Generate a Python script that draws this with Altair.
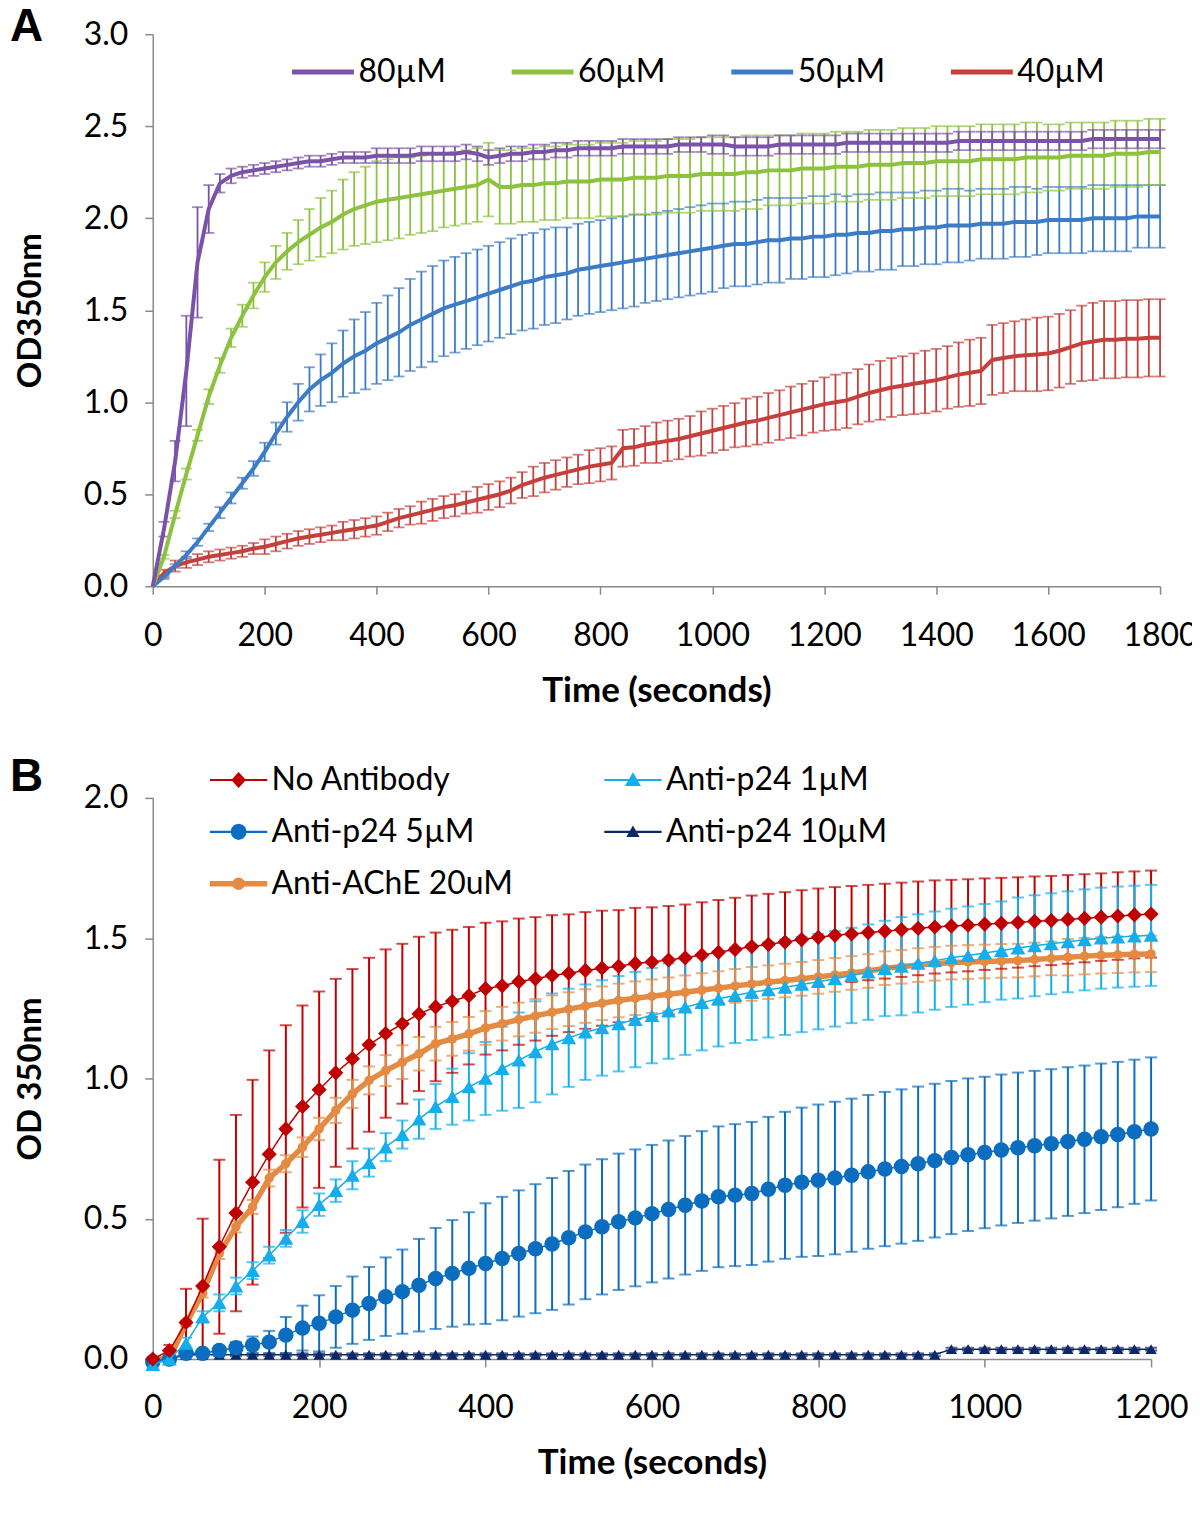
import altair as alt
import pandas as pd

# ---------------- Panel A data (sampled every 20 s) ----------------
TIMES_A = list(range(0, 1801, 20))
A_SERIES = ["80µM", "60µM", "50µM", "40µM"]
A_COLORS = ["#7A53A8", "#8CC23F", "#3C7BC6", "#C5403C"]

od_80 = [0.00, 0.31, 0.68, 1.17, 1.76, 2.05, 2.19, 2.23, 2.25, 2.26,
         2.27, 2.28, 2.29, 2.30, 2.31, 2.31, 2.32, 2.33, 2.33, 2.33,
         2.34, 2.34, 2.34, 2.34, 2.35, 2.35, 2.35, 2.35, 2.36, 2.35,
         2.33, 2.34, 2.35, 2.35, 2.36, 2.36, 2.37, 2.37, 2.38, 2.38,
         2.38, 2.38, 2.39, 2.39, 2.39, 2.39, 2.39, 2.40, 2.40, 2.40,
         2.40, 2.40, 2.39, 2.39, 2.39, 2.39, 2.40, 2.40, 2.40, 2.40,
         2.40, 2.40, 2.41, 2.41, 2.41, 2.41, 2.41, 2.41, 2.41, 2.41,
         2.41, 2.41, 2.42, 2.42, 2.42, 2.42, 2.42, 2.42, 2.42, 2.42,
         2.42, 2.42, 2.42, 2.42, 2.43, 2.43, 2.43, 2.43, 2.43, 2.43,
         2.43]
err_80 = [0.00, 0.04, 0.11, 0.30, 0.30, 0.13, 0.05, 0.04, 0.03, 0.03,
          0.03, 0.03, 0.03, 0.03, 0.03, 0.03, 0.03, 0.03, 0.03, 0.03,
          0.04, 0.04, 0.04, 0.04, 0.04, 0.04, 0.04, 0.04, 0.04, 0.04,
          0.04, 0.04, 0.04, 0.04, 0.04, 0.04, 0.04, 0.04, 0.04, 0.04,
          0.04, 0.04, 0.04, 0.04, 0.04, 0.04, 0.04, 0.04, 0.04, 0.04,
          0.05, 0.05, 0.05, 0.05, 0.05, 0.05, 0.05, 0.05, 0.05, 0.05,
          0.05, 0.05, 0.05, 0.05, 0.05, 0.05, 0.05, 0.05, 0.05, 0.05,
          0.05, 0.05, 0.05, 0.05, 0.05, 0.05, 0.05, 0.05, 0.05, 0.05,
          0.05, 0.05, 0.05, 0.05, 0.05, 0.05, 0.05, 0.05, 0.05, 0.05,
          0.05]

od_60 = [0.00, 0.16, 0.39, 0.61, 0.82, 1.03, 1.20, 1.35, 1.47, 1.58,
         1.68, 1.76, 1.82, 1.87, 1.91, 1.95, 1.98, 2.02, 2.05, 2.07,
         2.09, 2.10, 2.11, 2.12, 2.13, 2.14, 2.15, 2.16, 2.17, 2.18,
         2.21, 2.17, 2.17, 2.18, 2.18, 2.19, 2.19, 2.20, 2.20, 2.20,
         2.21, 2.21, 2.21, 2.22, 2.22, 2.22, 2.23, 2.23, 2.23, 2.24,
         2.24, 2.24, 2.24, 2.25, 2.25, 2.26, 2.26, 2.26, 2.27, 2.27,
         2.27, 2.28, 2.28, 2.28, 2.29, 2.29, 2.29, 2.30, 2.30, 2.30,
         2.31, 2.31, 2.31, 2.31, 2.32, 2.32, 2.32, 2.32, 2.33, 2.33,
         2.33, 2.33, 2.34, 2.34, 2.34, 2.34, 2.35, 2.35, 2.35, 2.36,
         2.36]
err_60 = [0.00, 0.01, 0.02, 0.03, 0.03, 0.04, 0.04, 0.05, 0.06, 0.07,
          0.08, 0.09, 0.10, 0.12, 0.14, 0.16, 0.17, 0.19, 0.20, 0.21,
          0.22, 0.22, 0.22, 0.21, 0.21, 0.21, 0.20, 0.20, 0.20, 0.20,
          0.20, 0.20, 0.20, 0.20, 0.20, 0.20, 0.20, 0.20, 0.20, 0.20,
          0.20, 0.20, 0.20, 0.20, 0.20, 0.20, 0.20, 0.20, 0.20, 0.20,
          0.20, 0.20, 0.20, 0.20, 0.20, 0.19, 0.19, 0.19, 0.19, 0.19,
          0.19, 0.19, 0.19, 0.19, 0.19, 0.19, 0.19, 0.19, 0.19, 0.19,
          0.19, 0.19, 0.19, 0.19, 0.19, 0.19, 0.19, 0.19, 0.19, 0.19,
          0.18, 0.18, 0.18, 0.18, 0.18, 0.18, 0.18, 0.18, 0.18, 0.18,
          0.18]

od_50 = [0.00, 0.05, 0.11, 0.17, 0.24, 0.32, 0.40, 0.48, 0.56, 0.64,
         0.73, 0.83, 0.92, 1.00, 1.07, 1.12, 1.16, 1.21, 1.25, 1.28,
         1.32, 1.35, 1.38, 1.42, 1.45, 1.48, 1.51, 1.53, 1.55, 1.57,
         1.59, 1.61, 1.63, 1.65, 1.66, 1.68, 1.69, 1.70, 1.72, 1.73,
         1.74, 1.75, 1.76, 1.77, 1.78, 1.79, 1.80, 1.81, 1.82, 1.83,
         1.84, 1.85, 1.86, 1.86, 1.87, 1.88, 1.88, 1.89, 1.89, 1.90,
         1.90, 1.91, 1.91, 1.92, 1.92, 1.93, 1.93, 1.94, 1.94, 1.95,
         1.95, 1.96, 1.96, 1.96, 1.97, 1.97, 1.97, 1.98, 1.98, 1.98,
         1.99, 1.99, 1.99, 1.99, 2.00, 2.00, 2.00, 2.00, 2.01, 2.01,
         2.01]
err_50 = [0.00, 0.01, 0.01, 0.02, 0.02, 0.02, 0.03, 0.03, 0.03, 0.04,
          0.05, 0.06, 0.08, 0.10, 0.12, 0.14, 0.16, 0.18, 0.20, 0.21,
          0.22, 0.23, 0.24, 0.25, 0.26, 0.26, 0.26, 0.26, 0.26, 0.26,
          0.26, 0.26, 0.26, 0.26, 0.26, 0.26, 0.26, 0.25, 0.25, 0.25,
          0.25, 0.25, 0.25, 0.25, 0.24, 0.24, 0.24, 0.24, 0.24, 0.24,
          0.24, 0.23, 0.23, 0.23, 0.23, 0.23, 0.23, 0.22, 0.22, 0.22,
          0.22, 0.22, 0.21, 0.21, 0.21, 0.21, 0.21, 0.20, 0.20, 0.20,
          0.20, 0.20, 0.20, 0.19, 0.19, 0.19, 0.19, 0.19, 0.19, 0.18,
          0.18, 0.18, 0.18, 0.18, 0.18, 0.18, 0.18, 0.18, 0.17, 0.17,
          0.17]

od_40 = [0.00, 0.07, 0.11, 0.13, 0.145, 0.16, 0.17, 0.18, 0.19, 0.205,
         0.215, 0.23, 0.245, 0.26, 0.27, 0.28, 0.29, 0.30, 0.31, 0.32,
         0.33, 0.35, 0.37, 0.385, 0.40, 0.415, 0.43, 0.44, 0.455, 0.47,
         0.485, 0.50, 0.52, 0.55, 0.57, 0.59, 0.605, 0.62, 0.635, 0.65,
         0.66, 0.67, 0.75, 0.755, 0.77, 0.78, 0.79, 0.80, 0.815, 0.83,
         0.845, 0.86, 0.875, 0.89, 0.90, 0.915, 0.93, 0.945, 0.96, 0.975,
         0.99, 1.00, 1.01, 1.03, 1.05, 1.065, 1.08, 1.09, 1.10, 1.11,
         1.12, 1.135, 1.15, 1.16, 1.17, 1.23, 1.24, 1.25, 1.255, 1.26,
         1.265, 1.28, 1.30, 1.32, 1.33, 1.34, 1.34, 1.345, 1.345, 1.35,
         1.35]
err_40 = [0.00, 0.02, 0.03, 0.03, 0.03, 0.03, 0.03, 0.03, 0.03, 0.03,
          0.04, 0.04, 0.04, 0.04, 0.04, 0.04, 0.04, 0.05, 0.05, 0.05,
          0.05, 0.05, 0.05, 0.05, 0.06, 0.06, 0.06, 0.06, 0.06, 0.07,
          0.07, 0.07, 0.07, 0.07, 0.08, 0.08, 0.08, 0.08, 0.08, 0.09,
          0.09, 0.09, 0.10, 0.10, 0.10, 0.11, 0.11, 0.11, 0.11, 0.12,
          0.12, 0.12, 0.12, 0.13, 0.13, 0.135, 0.135, 0.14, 0.14, 0.14,
          0.145, 0.15, 0.15, 0.15, 0.155, 0.16, 0.16, 0.16, 0.165, 0.17,
          0.17, 0.17, 0.175, 0.18, 0.18, 0.19, 0.19, 0.19, 0.195, 0.20,
          0.20, 0.20, 0.20, 0.205, 0.21, 0.21, 0.21, 0.21, 0.21, 0.21,
          0.21]

# ---------------- Panel B data (sampled every 20 s) ----------------
TIMES_B = list(range(0, 1201, 20))
B_SERIES = ["No Antibody", "Anti-p24 1µM", "Anti-p24 5µM", "Anti-p24 10µM", "Anti-AChE 20uM"]
B_COLORS = ["#C00000", "#14AEEC", "#0A6DC0", "#0D2866", "#E58A42"]
B_SHAPES = ["diamond", "triangle-up", "circle", "triangle-up", "circle"]
B_SIZES = [230, 220, 240, 130, 90]
B_LINEW = [1.5, 1.5, 1.5, 1.5, 5.5]

no_ab = [0.00, 0.03, 0.13, 0.26, 0.40, 0.52, 0.63, 0.73, 0.82, 0.90,
         0.96, 1.02, 1.07, 1.12, 1.16, 1.195, 1.23, 1.255, 1.275, 1.295,
         1.32, 1.33, 1.345, 1.355, 1.367, 1.375, 1.385, 1.393, 1.40, 1.41,
         1.415, 1.422, 1.43, 1.44, 1.45, 1.46, 1.47, 1.478, 1.486, 1.495,
         1.503, 1.51, 1.515, 1.52, 1.525, 1.53, 1.535, 1.54, 1.543, 1.546,
         1.55, 1.553, 1.556, 1.56, 1.563, 1.567, 1.571, 1.575, 1.579, 1.583,
         1.586]
no_ab_err = [0.00, 0.02, 0.12, 0.24, 0.31, 0.35, 0.365, 0.37, 0.37, 0.36,
             0.35, 0.335, 0.32, 0.31, 0.30, 0.285, 0.275, 0.265, 0.255, 0.245,
             0.235, 0.23, 0.225, 0.22, 0.215, 0.21, 0.208, 0.205, 0.20, 0.198,
             0.195, 0.193, 0.19, 0.188, 0.186, 0.184, 0.182, 0.18, 0.178, 0.176,
             0.174, 0.172, 0.171, 0.17, 0.169, 0.168, 0.167, 0.166, 0.165, 0.164,
             0.163, 0.162, 0.161, 0.16, 0.159, 0.158, 0.157, 0.156, 0.156, 0.155,
             0.155]

p24_1 = [-0.02, 0.00, 0.056, 0.15, 0.20, 0.26, 0.315, 0.37, 0.43, 0.49,
         0.55, 0.60, 0.655, 0.70, 0.755, 0.80, 0.855, 0.90, 0.935, 0.97,
         1.00, 1.035, 1.065, 1.095, 1.123, 1.145, 1.165, 1.18, 1.195, 1.21,
         1.224, 1.24, 1.254, 1.27, 1.284, 1.296, 1.307, 1.316, 1.325, 1.335,
         1.345, 1.355, 1.367, 1.379, 1.392, 1.40, 1.41, 1.42, 1.43, 1.438,
         1.447, 1.456, 1.465, 1.473, 1.48, 1.487, 1.494, 1.50, 1.504, 1.507,
         1.51]
p24_1_err = [0.01, 0.01, 0.02, 0.02, 0.03, 0.03, 0.03, 0.03, 0.03, 0.04,
             0.04, 0.04, 0.05, 0.05, 0.05, 0.05, 0.07, 0.08, 0.10, 0.12,
             0.13, 0.15, 0.17, 0.18, 0.18, 0.175, 0.17, 0.17, 0.17, 0.17,
             0.17, 0.17, 0.17, 0.17, 0.17, 0.17, 0.17, 0.17, 0.17, 0.17,
             0.17, 0.17, 0.17, 0.17, 0.17, 0.175, 0.175, 0.175, 0.175, 0.175,
             0.175, 0.175, 0.18, 0.18, 0.18, 0.18, 0.18, 0.18, 0.18, 0.18,
             0.18]

p24_5 = [-0.01, 0.00, 0.02, 0.02, 0.03, 0.04, 0.05, 0.06, 0.085, 0.11,
         0.127, 0.15, 0.174, 0.198, 0.222, 0.24, 0.263, 0.287, 0.305, 0.323,
         0.34, 0.358, 0.376, 0.393, 0.41, 0.432, 0.453, 0.471, 0.489, 0.503,
         0.518, 0.533, 0.548, 0.563, 0.578, 0.584, 0.59, 0.605, 0.619, 0.63,
         0.637, 0.645, 0.655, 0.667, 0.677, 0.686, 0.696, 0.707, 0.718, 0.728,
         0.736, 0.745, 0.753, 0.76, 0.767, 0.775, 0.783, 0.792, 0.80, 0.81,
         0.82]
p24_5_err = [0.00, 0.005, 0.01, 0.01, 0.015, 0.02, 0.03, 0.04, 0.065, 0.08,
             0.10, 0.11, 0.12, 0.13, 0.14, 0.15, 0.165, 0.18, 0.19, 0.20,
             0.215, 0.22, 0.225, 0.23, 0.235, 0.238, 0.24, 0.241, 0.243, 0.244,
             0.245, 0.246, 0.247, 0.249, 0.251, 0.253, 0.255, 0.258, 0.262, 0.266,
             0.27, 0.272, 0.273, 0.274, 0.275, 0.275, 0.275, 0.274, 0.273, 0.272,
             0.27, 0.269, 0.268, 0.267, 0.266, 0.265, 0.263, 0.261, 0.259, 0.257,
             0.255]

p24_10 = [-0.01, 0.00, 0.015, 0.015, 0.015, 0.015, 0.015, 0.015, 0.015, 0.015,
          0.015, 0.015, 0.015, 0.015, 0.015, 0.015, 0.015, 0.015, 0.015, 0.015,
          0.015, 0.015, 0.015, 0.015, 0.015, 0.015, 0.015, 0.015, 0.015, 0.015,
          0.015, 0.015, 0.015, 0.015, 0.015, 0.015, 0.015, 0.015, 0.015, 0.015,
          0.015, 0.015, 0.015, 0.015, 0.015, 0.015, 0.015, 0.015, 0.035, 0.035,
          0.035, 0.035, 0.035, 0.035, 0.035, 0.035, 0.035, 0.035, 0.035, 0.035,
          0.035]
p24_10_err = [0.005, 0.005, 0.005, 0.005, 0.005, 0.005, 0.005, 0.005, 0.005, 0.005,
              0.005, 0.005, 0.005, 0.005, 0.005, 0.005, 0.005, 0.005, 0.005, 0.005,
              0.005, 0.005, 0.005, 0.005, 0.005, 0.005, 0.005, 0.005, 0.005, 0.005,
              0.005, 0.005, 0.005, 0.005, 0.005, 0.005, 0.005, 0.005, 0.005, 0.005,
              0.005, 0.005, 0.005, 0.005, 0.005, 0.005, 0.005, 0.005, 0.005, 0.005,
              0.005, 0.005, 0.005, 0.005, 0.005, 0.005, 0.005, 0.005, 0.005, 0.005,
              0.005]

ache = [0.00, 0.00, 0.127, 0.234, 0.376, 0.471, 0.542, 0.645, 0.696, 0.755,
        0.82, 0.886, 0.945, 0.993, 1.028, 1.058, 1.088, 1.124, 1.141, 1.159,
        1.18, 1.195, 1.21, 1.223, 1.236, 1.247, 1.258, 1.268, 1.278, 1.286,
        1.293, 1.30, 1.307, 1.315, 1.322, 1.33, 1.337, 1.343, 1.349, 1.355,
        1.362, 1.369, 1.376, 1.383, 1.393, 1.398, 1.404, 1.409, 1.413, 1.415,
        1.417, 1.419, 1.42, 1.424, 1.428, 1.432, 1.436, 1.439, 1.441, 1.443,
        1.444]
ache_err = [0.00, 0.005, 0.01, 0.015, 0.02, 0.02, 0.025, 0.03, 0.03, 0.035,
            0.04, 0.045, 0.05, 0.05, 0.055, 0.06, 0.06, 0.06, 0.06, 0.06,
            0.06, 0.06, 0.06, 0.06, 0.06, 0.06, 0.06, 0.06, 0.06, 0.06,
            0.06, 0.06, 0.06, 0.06, 0.06, 0.06, 0.06, 0.06, 0.06, 0.06,
            0.06, 0.06, 0.06, 0.06, 0.06, 0.06, 0.06, 0.06, 0.06, 0.06,
            0.06, 0.06, 0.06, 0.06, 0.06, 0.065, 0.065, 0.065, 0.065, 0.065,
            0.065]

# legend symbols for panel B: a line segment plus the marker (unit coordinates)
_THIN = "M-4.1,-0.15L4.1,-0.15L4.1,0.15L-4.1,0.15Z "
_THICK = "M-4.1,-0.38L4.1,-0.38L4.1,0.38L-4.1,0.38Z "
LEG_PATHS = [
    _THIN + "M0,-1.15L1.05,0L0,1.15L-1.05,0Z",
    _THIN + "M0,-1.1L1.15,0.85L-1.15,0.85Z",
    _THIN + ("M1.15,0L1,0.575L0.575,1L0,1.15L-0.575,1L-1,0.575L-1.15,0"
             "L-1,-0.575L-0.575,-1L0,-1.15L0.575,-1L1,-0.575Z"),
    _THIN + "M0,-0.9L0.95,0.75L-0.95,0.75Z",
    _THICK + ("M0.9,0L0.78,0.45L0.45,0.78L0,0.9L-0.45,0.78L-0.78,0.45L-0.9,0"
              "L-0.78,-0.45L-0.45,-0.78L0,-0.9L0.45,-0.78L0.78,-0.45Z"),
]


def long_frame(times, names, values, errors):
    rows = []
    for name, vals, errs in zip(names, values, errors):
        assert len(vals) == len(times), (name, len(vals))
        assert len(errs) == len(times), (name, len(errs))
        for t, v, e in zip(times, vals, errs):
            rows.append({"time": t, "series": name, "od": v, "err": e,
                         "lo": v - e, "hi": v + e})
    return pd.DataFrame(rows)


# draw order: last drawn on top
df_a = long_frame(TIMES_A, A_SERIES[::-1],
                  [od_40, od_50, od_60, od_80], [err_40, err_50, err_60, err_80])
df_b = long_frame(TIMES_B, B_SERIES,
                  [no_ab, p24_1, p24_5, p24_10, ache],
                  [no_ab_err, p24_1_err, p24_5_err, p24_10_err, ache_err])

FONT = "Lato"

# ---------------- Panel A ----------------
xa_scale = alt.Scale(domain=[0, 1800], nice=False, zero=False)
ya_scale = alt.Scale(domain=[0, 3], nice=False)
xa_axis = alt.Axis(values=list(range(0, 1801, 200)), format="d", title="Time (seconds)")
ya_axis = alt.Axis(values=[0, 0.5, 1.0, 1.5, 2.0, 2.5, 3.0], format=".1f", title="OD350nm")
col_a = alt.Scale(domain=A_SERIES, range=A_COLORS)

# legend-only layer (first, so that its legend definition wins when merged)
legend_layer_a = alt.Chart(pd.DataFrame({"series": A_SERIES})).mark_point(opacity=0).encode(
    x=alt.value(500), y=alt.value(300),
    color=alt.Color("series:N", scale=col_a, legend=alt.Legend(
        title=None, orient="none", legendX=137, legendY=4, direction="horizontal",
        columns=4, symbolType="stroke", symbolSize=3844, symbolStrokeWidth=5,
        symbolOpacity=1, labelFontSize=32, labelFont=FONT, labelColor="black",
        labelOffset=2, columnPadding=55, labelLimit=400)))

base_a = alt.Chart(df_a)
xa = alt.X("time:Q", scale=xa_scale, axis=xa_axis)
err_a = base_a.transform_filter("datum.err > 0")
rules_a = err_a.mark_rule(strokeWidth=1.8).encode(
    x=xa, y=alt.Y("lo:Q", scale=ya_scale, axis=ya_axis), y2="hi:Q",
    color=alt.Color("series:N", scale=col_a, legend=None))
caps_hi_a = err_a.mark_tick(orient="horizontal", size=11, thickness=1.8).encode(
    x=xa, y=alt.Y("hi:Q", scale=ya_scale, axis=ya_axis),
    color=alt.Color("series:N", scale=col_a, legend=None))
caps_lo_a = err_a.mark_tick(orient="horizontal", size=11, thickness=1.8).encode(
    x=xa, y=alt.Y("lo:Q", scale=ya_scale, axis=ya_axis),
    color=alt.Color("series:N", scale=col_a, legend=None))
lines_a = base_a.mark_line(strokeWidth=4).encode(
    x=xa, y=alt.Y("od:Q", scale=ya_scale, axis=ya_axis),
    color=alt.Color("series:N", scale=col_a, legend=None))
letter_a = alt.Chart(pd.DataFrame({"letter": ["A"]})).mark_text(
    align="left", baseline="alphabetic", fontSize=46, fontWeight="bold",
    font="Liberation Sans", color="black").encode(
    x=alt.value(-143), y=alt.value(7), text="letter:N")

panel_a = alt.layer(legend_layer_a, rules_a, caps_hi_a, caps_lo_a, lines_a,
                    letter_a).properties(width=1009, height=553)

# ---------------- Panel B ----------------
xb_scale = alt.Scale(domain=[0, 1200], nice=False, zero=False)
yb_scale = alt.Scale(domain=[0, 2], nice=False)
xb_axis = alt.Axis(values=list(range(0, 1201, 200)), format="d", title="Time (seconds)")
yb_axis = alt.Axis(values=[0, 0.5, 1.0, 1.5, 2.0], format=".1f", title="OD 350nm")
col_b = alt.Scale(domain=B_SERIES, range=B_COLORS)

legend_b = alt.Legend(
    title=None, orient="none", legendX=70, legendY=-34, direction="horizontal",
    columns=2, symbolSize=196, symbolOpacity=1, symbolStrokeWidth=0,
    labelFontSize=32, labelFont=FONT, labelColor="black", labelOffset=17,
    rowPadding=20, columnPadding=91, labelLimit=400)
legend_layer_b = alt.Chart(pd.DataFrame({"series": B_SERIES})).mark_point(
    filled=True, opacity=0, size=196).encode(
    x=alt.value(500), y=alt.value(300),
    color=alt.Color("series:N", scale=col_b, legend=legend_b),
    shape=alt.Shape("series:N", scale=alt.Scale(domain=B_SERIES, range=LEG_PATHS),
                    legend=legend_b))

base_b = alt.Chart(df_b)
xb = alt.X("time:Q", scale=xb_scale, axis=xb_axis)
err_b = base_b.transform_filter("datum.err > 0")
rules_b = err_b.mark_rule(strokeWidth=2).encode(
    x=xb, y=alt.Y("lo:Q", scale=yb_scale, axis=yb_axis), y2="hi:Q",
    color=alt.Color("series:N", scale=col_b, legend=None))
caps_hi_b = err_b.mark_tick(orient="horizontal", size=12, thickness=2).encode(
    x=xb, y=alt.Y("hi:Q", scale=yb_scale, axis=yb_axis),
    color=alt.Color("series:N", scale=col_b, legend=None))
caps_lo_b = err_b.mark_tick(orient="horizontal", size=12, thickness=2).encode(
    x=xb, y=alt.Y("lo:Q", scale=yb_scale, axis=yb_axis),
    color=alt.Color("series:N", scale=col_b, legend=None))

series_layers = []
for idx in [4, 3, 2, 1, 0]:
    name = B_SERIES[idx]
    sub = base_b.transform_filter(alt.datum.series == name)
    series_layers.append(sub.mark_line(strokeWidth=B_LINEW[idx]).encode(
        x=xb, y=alt.Y("od:Q", scale=yb_scale, axis=yb_axis),
        color=alt.Color("series:N", scale=col_b, legend=None)))
    series_layers.append(sub.mark_point(filled=True, opacity=1, shape=B_SHAPES[idx],
                                        size=B_SIZES[idx]).encode(
        x=xb, y=alt.Y("od:Q", scale=yb_scale, axis=yb_axis),
        color=alt.Color("series:N", scale=col_b, legend=None)))

letter_b = alt.Chart(pd.DataFrame({"letter": ["B"]})).mark_text(
    align="left", baseline="alphabetic", fontSize=46, fontWeight="bold",
    font="Liberation Sans", color="black").encode(
    x=alt.value(-143), y=alt.value(-7), text="letter:N")

panel_b = alt.layer(legend_layer_b, rules_b, caps_hi_b, caps_lo_b, *series_layers,
                    letter_b).properties(width=1000, height=562)

chart = alt.vconcat(panel_a, panel_b, spacing=46).resolve_scale(
    color="independent", shape="independent"
).properties(
    padding={"left": 2, "top": -5, "right": -6, "bottom": 0}
).configure_view(stroke=None).configure_axis(
    grid=False, labelFont=FONT, labelFontSize=32, labelColor="black",
    titleFont=FONT, titleFontWeight="bold", titleColor="black",
    domainColor="#8a8a8a", domainWidth=1.5, tickColor="#8a8a8a", tickWidth=1.5,
    tickSize=8, labelFlush=False, labelOverlap=False
).configure_axisX(labelPadding=26, titlePadding=22, titleFontSize=35).configure_axisY(
    labelPadding=17, titlePadding=36, titleFontSize=33)

chart.save("out.html", embed_options={"renderer": "svg", "actions": False})
